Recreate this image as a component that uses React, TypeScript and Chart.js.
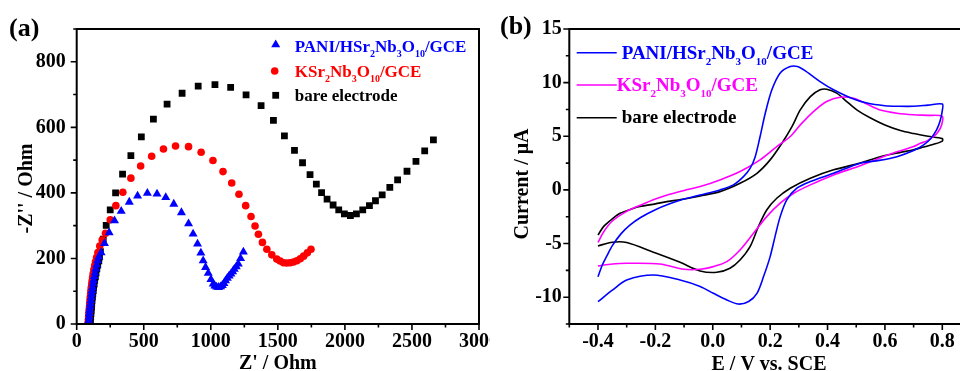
import React, { useEffect, useRef } from 'react';
import { Chart, registerables } from 'chart.js';

Chart.register(...registerables);

const FONT = 'Liberation Serif';

// ---------- Panel (a): Nyquist plot ----------
const SERIES_NAMES = ['PANI/HSr2Nb3O10/GCE', 'KSr2Nb3O10/GCE', 'bare electrode'];
const EIS_COLORS = ['#0000ff', '#ff0000', '#000000'];

const PANI_ZRE = [88, 90, 92, 94, 96, 99, 102, 105, 108, 111, 114, 118, 122, 126, 131, 136, 142, 149, 156, 165, 182, 207, 242, 282, 332, 392, 454, 527, 599, 664, 724, 781, 834, 868, 901, 926, 943, 961, 981, 1001, 1018, 1030, 1043, 1058, 1073, 1086, 1098, 1110, 1123, 1137, 1150, 1163, 1175, 1190, 1205, 1222, 1243];
const PANI_ZIM = [2, 12, 22, 32, 42, 52, 62, 72, 82, 92, 102, 112, 123, 134, 145, 156, 168, 180, 193, 205, 218, 246, 279, 315, 344, 372, 391, 399, 397, 386, 366, 340, 306, 275, 244, 217, 193, 173, 155, 136, 122, 116, 113, 112, 114, 118, 124, 132, 140, 147, 153, 160, 167, 175, 183, 200, 220];

const KSN_ZRE = [85, 87, 89, 91, 93, 95, 97, 99, 101, 104, 106, 109, 112, 115, 119, 123, 128, 134, 140, 148, 158, 172, 190, 215, 250, 292, 344, 404, 477, 559, 647, 737, 834, 928, 1016, 1091, 1156, 1210, 1260, 1300, 1330, 1355, 1385, 1418, 1455, 1492, 1517, 1542, 1567, 1592, 1617, 1642, 1667, 1692, 1720, 1747];
const KSN_ZIM = [2, 12, 22, 32, 42, 52, 62, 72, 82, 92, 102, 112, 122, 132, 143, 154, 166, 178, 190, 203, 218, 238, 256, 277, 318, 361, 402, 445, 482, 512, 534, 543, 541, 524, 499, 465, 430, 396, 361, 328, 299, 274, 249, 228, 211, 198, 192, 187, 186, 187, 189, 193, 199, 207, 217, 228];

const BARE_ZRE = [100, 102, 104, 106, 108, 110, 112, 114, 117, 120, 123, 126, 130, 134, 139, 144, 150, 157, 165, 170, 177, 198, 220, 250, 290, 342, 404, 482, 572, 674, 786, 906, 1031, 1148, 1263, 1375, 1467, 1549, 1624, 1684, 1740, 1787, 1826, 1867, 1912, 1954, 1996, 2041, 2086, 2133, 2183, 2228, 2278, 2335, 2393, 2463, 2530, 2595, 2660];
const BARE_ZIM = [2, 12, 22, 32, 42, 52, 62, 72, 82, 92, 102, 112, 122, 133, 144, 156, 168, 180, 193, 205, 221, 259, 301, 348, 400, 457, 514, 571, 625, 671, 704, 726, 730, 722, 699, 666, 621, 574, 530, 492, 456, 427, 401, 381, 363, 348, 336, 331, 336, 348, 361, 376, 394, 417, 440, 466, 496, 528, 562];

const EIS_X_TICKS = [0, 500, 1000, 1500, 2000, 2500, 3000];
const EIS_X_MINOR = [250, 750, 1250, 1750, 2250, 2750];
const EIS_Y_TICKS = [0, 200, 400, 600, 800];
const EIS_Y_MINOR = [100, 300, 500, 700, 900];

// ---------- Panel (b): cyclic voltammograms ----------
const CV_COLORS = ['#0000ff', '#ff00ff', '#000000'];

const PANI_E = [-0.4, -0.385, -0.37, -0.35, -0.32, -0.29, -0.25, -0.2, -0.15, -0.1, -0.044, 0.025, 0.072, 0.107, 0.13, 0.148, 0.165, 0.183, 0.206, 0.235, 0.27, 0.295, 0.325, 0.374, 0.421, 0.479, 0.537, 0.6, 0.65, 0.7, 0.75, 0.8, 0.8, 0.792, 0.78, 0.76, 0.735, 0.7, 0.642, 0.58, 0.514, 0.421, 0.34, 0.293, 0.258, 0.235, 0.217, 0.2, 0.177, 0.154, 0.125, 0.089, 0.049, 0.002, -0.044, -0.114, -0.207, -0.3, -0.35, -0.4];
const PANI_I = [-8.1, -7.0, -6.2, -5.2, -4.1, -3.3, -2.55, -1.85, -1.3, -0.85, -0.47, 0.0, 0.47, 1.24, 2.0, 3.1, 4.98, 7.15, 9.33, 10.9, 11.5, 11.5, 11.05, 10.1, 9.33, 8.6, 8.1, 7.85, 7.8, 7.8, 7.9, 8.0, 7.4, 6.4, 5.6, 4.8, 4.2, 3.67, 3.1, 2.75, 2.49, 1.55, 0.78, 0.16, -0.93, -2.49, -4.35, -6.22, -8.08, -9.64, -10.4, -10.64, -10.26, -9.64, -9.0, -8.4, -7.93, -8.4, -9.35, -10.42];

const KSN_E = [-0.4, -0.38, -0.35, -0.3, -0.25, -0.2, -0.15, -0.1, -0.044, 0.025, 0.095, 0.165, 0.223, 0.27, 0.305, 0.351, 0.397, 0.444, 0.491, 0.537, 0.584, 0.642, 0.7, 0.75, 0.8, 0.797, 0.785, 0.77, 0.745, 0.724, 0.7, 0.642, 0.6, 0.514, 0.421, 0.34, 0.282, 0.235, 0.188, 0.142, 0.095, 0.049, 0.002, -0.044, -0.1, -0.184, -0.3, -0.35, -0.4];
const KSN_I = [-4.9, -3.9, -2.9, -2.0, -1.4, -0.85, -0.4, -0.05, 0.31, 0.93, 1.71, 2.8, 4.04, 4.98, 6.06, 7.3, 8.24, 8.64, 8.55, 8.0, 7.45, 7.15, 7.0, 6.95, 6.85, 6.0, 5.4, 4.98, 4.55, 4.35, 4.05, 3.55, 3.15, 2.25, 1.4, 0.47, -0.31, -1.24, -2.49, -4.04, -5.6, -6.69, -7.15, -7.4, -7.4, -6.9, -6.84, -6.9, -7.08];

const BARE_E = [-0.4, -0.38, -0.35, -0.323, -0.28, -0.254, -0.2, -0.16, -0.1, -0.044, 0.025, 0.095, 0.154, 0.2, 0.241, 0.276, 0.305, 0.34, 0.374, 0.397, 0.432, 0.467, 0.502, 0.55, 0.6, 0.654, 0.7, 0.75, 0.8, 0.8, 0.77, 0.735, 0.7, 0.654, 0.584, 0.514, 0.421, 0.34, 0.27, 0.223, 0.188, 0.159, 0.13, 0.095, 0.06, 0.014, -0.044, -0.114, -0.207, -0.3, -0.35, -0.4];
const BARE_I = [-4.2, -3.4, -2.7, -2.18, -1.75, -1.55, -1.3, -1.09, -0.85, -0.56, -0.16, 0.62, 1.55, 2.8, 4.35, 5.9, 7.46, 8.7, 9.33, 9.39, 9.02, 8.24, 7.46, 6.7, 6.05, 5.53, 5.25, 5.0, 4.78, 4.55, 4.25, 4.0, 3.75, 3.5, 3.1, 2.5, 1.87, 1.09, 0.16, -0.78, -1.87, -3.42, -5.29, -6.53, -7.3, -7.68, -7.55, -6.75, -5.81, -4.91, -4.88, -5.22];

const CV_X_TICKS = [-0.4, -0.2, 0.0, 0.2, 0.4, 0.6, 0.8];
const CV_X_MINOR = [-0.5, -0.3, -0.1, 0.1, 0.3, 0.5, 0.7, 0.9];
const CV_Y_TICKS = [-10, -5, 0, 5, 10, 15];
const CV_Y_MINOR = [-12.5, -7.5, -2.5, 2.5, 7.5, 12.5];

// ---------- helpers ----------
function toPoints(xs: number[], ys: number[]) {
  return xs.map((x, i) => ({ x, y: ys[i] }));
}

function drawRich(ctx: CanvasRenderingContext2D, text: string, x: number, y: number, size: number, color: string) {
  const parts = text.split(/(\d+)/).filter((s) => s.length > 0);
  let cx = x;
  ctx.fillStyle = color;
  ctx.textAlign = 'left';
  ctx.textBaseline = 'alphabetic';
  for (const p of parts) {
    const sub = /^\d+$/.test(p);
    const s = sub ? Math.round(size * 0.6) : size;
    ctx.font = `bold ${s}px "${FONT}"`;
    ctx.fillText(p, cx, sub ? y + size * 0.3 : y);
    cx += ctx.measureText(p).width;
  }
}

function drawFrame(chart: any, xMajor: number[], xMinor: number[], yMajor: number[], yMinor: number[]) {
  const { ctx, chartArea: a, scales } = chart;
  const xs = scales.x;
  const ys = scales.y;
  ctx.save();
  ctx.strokeStyle = '#000';
  ctx.lineWidth = 2;
  ctx.strokeRect(a.left, a.top, a.right - a.left, a.bottom - a.top);
  ctx.lineWidth = 1.6;
  ctx.beginPath();
  const seg = (x1: number, y1: number, x2: number, y2: number) => {
    ctx.moveTo(x1, y1);
    ctx.lineTo(x2, y2);
  };
  xMajor.forEach((v) => { const p = xs.getPixelForValue(v); seg(p, a.bottom, p, a.bottom + 6); });
  xMinor.forEach((v) => { const p = xs.getPixelForValue(v); seg(p, a.bottom, p, a.bottom + 3.5); });
  yMajor.forEach((v) => { const p = ys.getPixelForValue(v); seg(a.left, p, a.left - 6, p); });
  yMinor.forEach((v) => { const p = ys.getPixelForValue(v); seg(a.left, p, a.left - 3.5, p); });
  ctx.stroke();
  ctx.restore();
}

const tickFont = { family: FONT, size: 20, weight: 'bold' as const };

function fixScale(w: number | null, h: number | null) {
  return (scale: any) => {
    if (w !== null) scale.width = w;
    if (h !== null) scale.height = h;
    scale.paddingLeft = 0;
    scale.paddingRight = 0;
    scale.paddingTop = 0;
    scale.paddingBottom = 0;
  };
}

function setTicks(values: number[]) {
  return (scale: any) => {
    scale.ticks = values.map((v) => ({ value: v }));
  };
}

export default function App() {
  const refA = useRef<HTMLCanvasElement>(null);
  const refB = useRef<HTMLCanvasElement>(null);

  useEffect(() => {
    if (!refA.current || !refB.current) return;

    const decorA = {
      id: 'decorA',
      afterDraw(chart: any) {
        drawFrame(chart, EIS_X_TICKS, EIS_X_MINOR, EIS_Y_TICKS, EIS_Y_MINOR);
        const ctx: CanvasRenderingContext2D = chart.ctx;
        const a = chart.chartArea;
        ctx.save();
        ctx.fillStyle = '#000';
        ctx.font = `bold 26px "${FONT}"`;
        ctx.textAlign = 'left';
        ctx.textBaseline = 'alphabetic';
        ctx.fillText('(a)', 9, 36);
        ctx.font = `bold 20px "${FONT}"`;
        ctx.textAlign = 'center';
        ctx.fillText("Z' / Ohm", (a.left + a.right) / 2, 369);
        ctx.save();
        ctx.translate(31.5, (a.top + a.bottom) / 2 + 12);
        ctx.rotate(-Math.PI / 2);
        ctx.fillText("-Z'' / Ohm", 0, 0);
        ctx.restore();
        // legend
        const lx = a.left + 199;
        const rows = [44.7, 71, 95.3];
        ctx.fillStyle = EIS_COLORS[0];
        ctx.beginPath();
        const r = 5.2;
        ctx.moveTo(lx, rows[0] - r);
        ctx.lineTo(lx + r * 0.866, rows[0] + r / 2);
        ctx.lineTo(lx - r * 0.866, rows[0] + r / 2);
        ctx.closePath();
        ctx.fill();
        ctx.fillStyle = EIS_COLORS[1];
        ctx.beginPath();
        ctx.arc(lx - 1, rows[1], 3.8, 0, Math.PI * 2);
        ctx.fill();
        ctx.fillStyle = EIS_COLORS[2];
        ctx.fillRect(lx - 3.4, rows[2] - 3.4, 6.8, 6.8);
        const tx = a.left + 218;
        drawRich(ctx, SERIES_NAMES[0], tx, 51.7, 17, EIS_COLORS[0]);
        drawRich(ctx, SERIES_NAMES[1], tx, 77.3, 17, EIS_COLORS[1]);
        drawRich(ctx, SERIES_NAMES[2], tx, 100.7, 17, EIS_COLORS[2]);
        ctx.restore();
      },
    };

    const decorB = {
      id: 'decorB',
      afterDraw(chart: any) {
        drawFrame(chart, CV_X_TICKS, CV_X_MINOR, CV_Y_TICKS, CV_Y_MINOR);
        const ctx: CanvasRenderingContext2D = chart.ctx;
        const a = chart.chartArea;
        ctx.save();
        ctx.fillStyle = '#000';
        ctx.font = `bold 26px "${FONT}"`;
        ctx.textAlign = 'left';
        ctx.textBaseline = 'alphabetic';
        ctx.fillText('(b)', 10, 34.3);
        ctx.font = `bold 20px "${FONT}"`;
        ctx.textAlign = 'center';
        ctx.fillText('E / V vs. SCE', 279, 369.5);
        ctx.save();
        ctx.translate(38.3, 184);
        ctx.rotate(-Math.PI / 2);
        ctx.fillText('Current / \u03bcA', 0, 0);
        ctx.restore();
        const rows = [52.7, 85, 117.7];
        const bases = [59.3, 91, 123.3];
        const starts = [131.7, 126.7, 131.7];
        rows.forEach((yy, i) => {
          ctx.strokeStyle = CV_COLORS[i];
          ctx.lineWidth = 1.6;
          ctx.beginPath();
          ctx.moveTo(a.left + 7.4, yy);
          ctx.lineTo(a.left + 47.4, yy);
          ctx.stroke();
          drawRich(ctx, SERIES_NAMES[i], starts[i], bases[i], 19, CV_COLORS[i]);
        });
        ctx.restore();
      },
    };

    const chartA = new Chart(refA.current, {
      type: 'scatter',
      data: {
        datasets: [
          {
            label: SERIES_NAMES[0],
            data: toPoints(PANI_ZRE, PANI_ZIM),
            pointStyle: 'triangle',
            pointRadius: 5.2,
            pointBorderWidth: 0,
            backgroundColor: EIS_COLORS[0],
            borderColor: EIS_COLORS[0],
          },
          {
            label: SERIES_NAMES[1],
            data: toPoints(KSN_ZRE, KSN_ZIM),
            pointStyle: 'circle',
            pointRadius: 3.8,
            pointBorderWidth: 0,
            backgroundColor: EIS_COLORS[1],
            borderColor: EIS_COLORS[1],
          },
          {
            label: SERIES_NAMES[2],
            data: toPoints(BARE_ZRE, BARE_ZIM),
            pointStyle: 'rect',
            pointRadius: 4.8,
            pointBorderWidth: 0,
            backgroundColor: EIS_COLORS[2],
            borderColor: EIS_COLORS[2],
          },
        ],
      },
      options: {
        responsive: false,
        animation: false,
        events: [],
        layout: { padding: { left: 0, top: 29, right: 11, bottom: 0 } },
        plugins: { legend: { display: false }, tooltip: { enabled: false } },
        scales: {
          x: {
            type: 'linear',
            min: 0,
            max: 3000,
            grid: { display: false, drawTicks: false },
            border: { display: false },
            afterFit: fixScale(null, 47),
            afterBuildTicks: setTicks(EIS_X_TICKS),
            ticks: { color: '#000', font: tickFont, padding: 6, maxRotation: 0, autoSkip: false, callback: (v: any) => String(v) },
          },
          y: {
            type: 'linear',
            min: 0,
            max: 900,
            grid: { display: false, drawTicks: false },
            border: { display: false },
            afterFit: fixScale(76.7, null),
            afterBuildTicks: setTicks(EIS_Y_TICKS),
            ticks: { color: '#000', font: tickFont, padding: 11, autoSkip: false, callback: (v: any) => String(v) },
          },
        },
      },
      plugins: [decorA],
    } as any);

    const chartB = new Chart(refB.current, {
      type: 'scatter',
      data: {
        datasets: [
          { label: SERIES_NAMES[0], data: toPoints(PANI_E, PANI_I), borderColor: CV_COLORS[0] },
          { label: SERIES_NAMES[1], data: toPoints(KSN_E, KSN_I), borderColor: CV_COLORS[1] },
          { label: SERIES_NAMES[2], data: toPoints(BARE_E, BARE_I), borderColor: CV_COLORS[2] },
        ].map((d) => ({ ...d, showLine: true, pointRadius: 0, borderWidth: 1.6, tension: 0.3, fill: false })),
      },
      options: {
        responsive: false,
        animation: false,
        events: [],
        layout: { padding: { left: 0, top: 29, right: 9, bottom: 0 } },
        plugins: { legend: { display: false }, tooltip: { enabled: false } },
        scales: {
          x: {
            type: 'linear',
            min: -0.5,
            max: 0.9,
            grid: { display: false, drawTicks: false },
            border: { display: false },
            afterFit: fixScale(null, 47),
            afterBuildTicks: setTicks(CV_X_TICKS),
            ticks: {
              color: '#000',
              font: tickFont,
              padding: 6,
              maxRotation: 0,
              autoSkip: false,
              callback: (v: any) => (Math.abs(v) < 1e-9 ? '0.0' : Number(v).toFixed(1)),
            },
          },
          y: {
            type: 'linear',
            min: -12.5,
            max: 15,
            grid: { display: false, drawTicks: false },
            border: { display: false },
            afterFit: fixScale(79.3, null),
            afterBuildTicks: setTicks(CV_Y_TICKS),
            ticks: { color: '#000', font: tickFont, padding: 7.5, autoSkip: false, callback: (v: any) => String(v) },
          },
        },
      },
      plugins: [decorB],
    } as any);

    return () => {
      chartA.destroy();
      chartB.destroy();
    };
  }, []);

  return (
    <div style={{ position: 'absolute', left: 0, top: 0, width: 960, height: 371, overflow: 'hidden', background: '#fff' }}>
      <canvas ref={refA} width={490} height={371} style={{ position: 'absolute', left: 0, top: 0 }} />
      <canvas ref={refB} width={490} height={371} style={{ position: 'absolute', left: 490, top: 0 }} />
    </div>
  );
}
